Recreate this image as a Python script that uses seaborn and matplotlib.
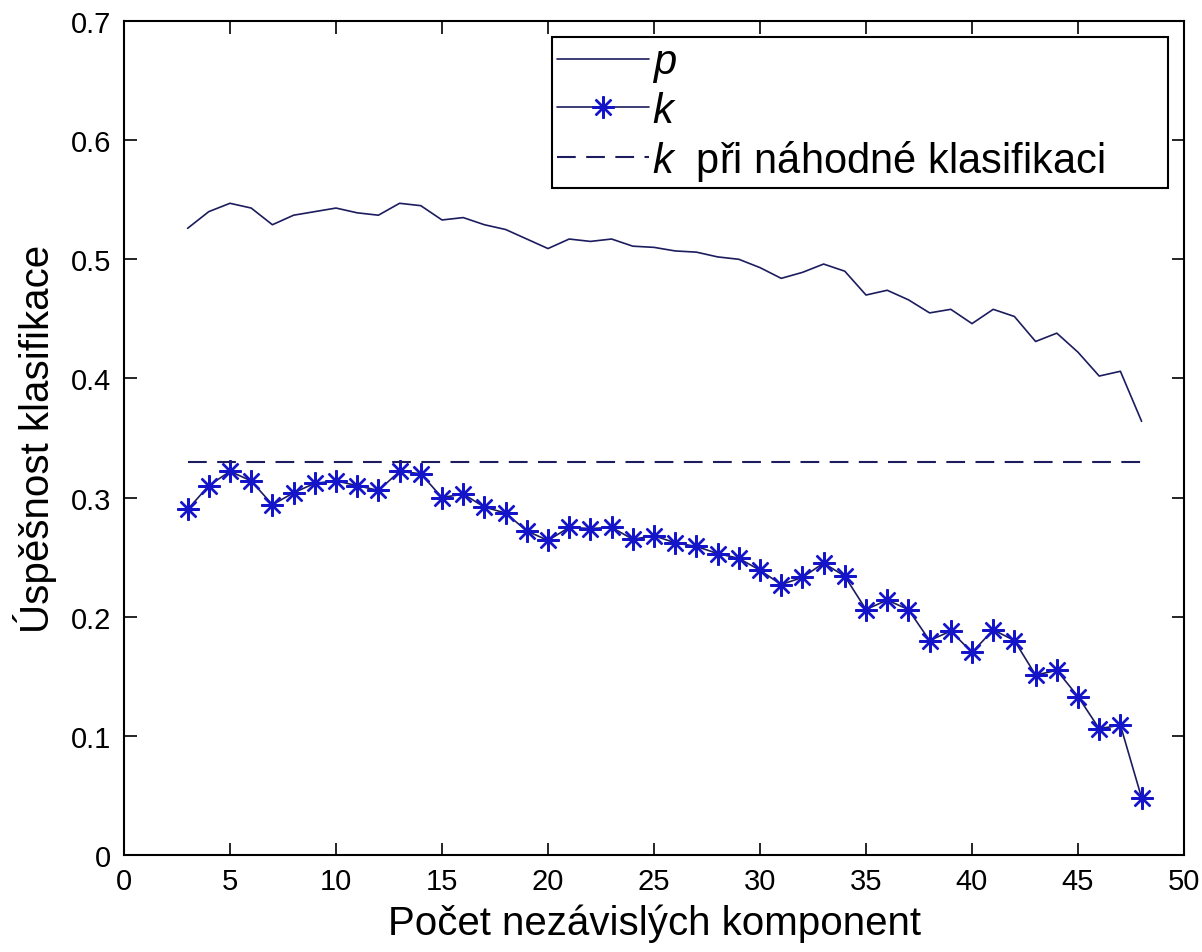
import matplotlib
matplotlib.use("Agg")
import matplotlib.pyplot as plt
import seaborn as sns
import pandas as pd
from matplotlib.ticker import FuncFormatter

components = list(range(3, 49))
p_values = [0.526, 0.540, 0.547, 0.543, 0.529, 0.537, 0.540, 0.543, 0.539, 0.537,
            0.547, 0.545, 0.533, 0.535, 0.529, 0.525, 0.517, 0.509, 0.517, 0.515,
            0.517, 0.511, 0.510, 0.507, 0.506, 0.502, 0.500, 0.493, 0.484, 0.489,
            0.496, 0.490, 0.470, 0.474, 0.466, 0.455, 0.458, 0.446, 0.458, 0.452,
            0.431, 0.438, 0.422, 0.402, 0.406, 0.364]
k_values = [0.290, 0.310, 0.322, 0.314, 0.294, 0.304, 0.312, 0.314, 0.310, 0.306,
            0.322, 0.320, 0.300, 0.303, 0.292, 0.287, 0.272, 0.264, 0.275, 0.274,
            0.275, 0.265, 0.268, 0.262, 0.259, 0.253, 0.249, 0.239, 0.227, 0.233,
            0.245, 0.234, 0.206, 0.214, 0.206, 0.180, 0.188, 0.170, 0.189, 0.180,
            0.151, 0.155, 0.133, 0.106, 0.109, 0.048]
chance_x = [3, 48]
chance_k = [0.33, 0.33]

labels = ["$p$", "$k$", "$k$  při náhodné klasifikaci"]
x_ticks = [0, 5, 10, 15, 20, 25, 30, 35, 40, 45, 50]
y_ticks = [0, 0.1, 0.2, 0.3, 0.4, 0.5, 0.6, 0.7]

sns.set_theme(style="ticks")
plt.rcParams["font.family"] = ["Liberation Sans", "DejaVu Sans"]
plt.rcParams["mathtext.fontset"] = "custom"
plt.rcParams["mathtext.it"] = "Liberation Sans:italic"
plt.rcParams["mathtext.rm"] = "Liberation Sans"
plt.rcParams["text.color"] = "black"
plt.rcParams["axes.labelcolor"] = "black"

fig = plt.figure(figsize=(12.02, 9.53), dpi=100, facecolor="white")
ax = fig.add_axes([124 / 1202, 1 - 856 / 953, (1184 - 124) / 1202, (856 - 22) / 953])

line_col = "#1c1c5e"
mk_col = "#1414c8"

df = pd.DataFrame({"x": components, "p": p_values, "k": k_values})
sns.lineplot(data=df, x="x", y="p", ax=ax, color=line_col, linewidth=1.2, label=labels[0])
sns.lineplot(data=df, x="x", y="k", ax=ax, color=line_col, linewidth=1.2,
             marker=(8, 2, 0), markersize=16, markeredgecolor=mk_col,
             markerfacecolor=mk_col, markeredgewidth=1.7, label=labels[1])
sns.lineplot(x=chance_x, y=chance_k, ax=ax, color=line_col, linewidth=1.5,
             dashes=(9, 5), label=labels[2])

ax.set_xlim(0, 50)
ax.set_ylim(0, 0.7)
ax.set_xticks(x_ticks)
ax.set_yticks(y_ticks)
ax.yaxis.set_major_formatter(FuncFormatter(lambda v, _: f"{v:g}"))
ax.tick_params(direction="in", length=9, width=1.2, top=True, right=True,
               labelsize=21, colors="black", labelcolor="black", pad=9)
for s in ax.spines.values():
    s.set_linewidth(1.5)
    s.set_color("black")
    s.set_visible(True)

ax.set_xlabel("Počet nezávislých komponent", fontsize=29, labelpad=6, color="black")
ax.set_ylabel("Úspěšnost klasifikace", fontsize=29, labelpad=10, color="black")

leg = ax.legend(loc="upper left", bbox_to_anchor=(0.4038, 0, 0.581, 0.981),
                mode="expand", borderaxespad=0, fontsize=30, frameon=True,
                fancybox=False, edgecolor="black", handlelength=2.2,
                handletextpad=0.08, labelspacing=0.16, borderpad=0.13)
leg.get_frame().set_linewidth(1.5)
leg.get_frame().set_alpha(1)
for t in leg.get_texts():
    t.set_color("black")

fig.savefig("out.png", dpi=100, facecolor="white")
